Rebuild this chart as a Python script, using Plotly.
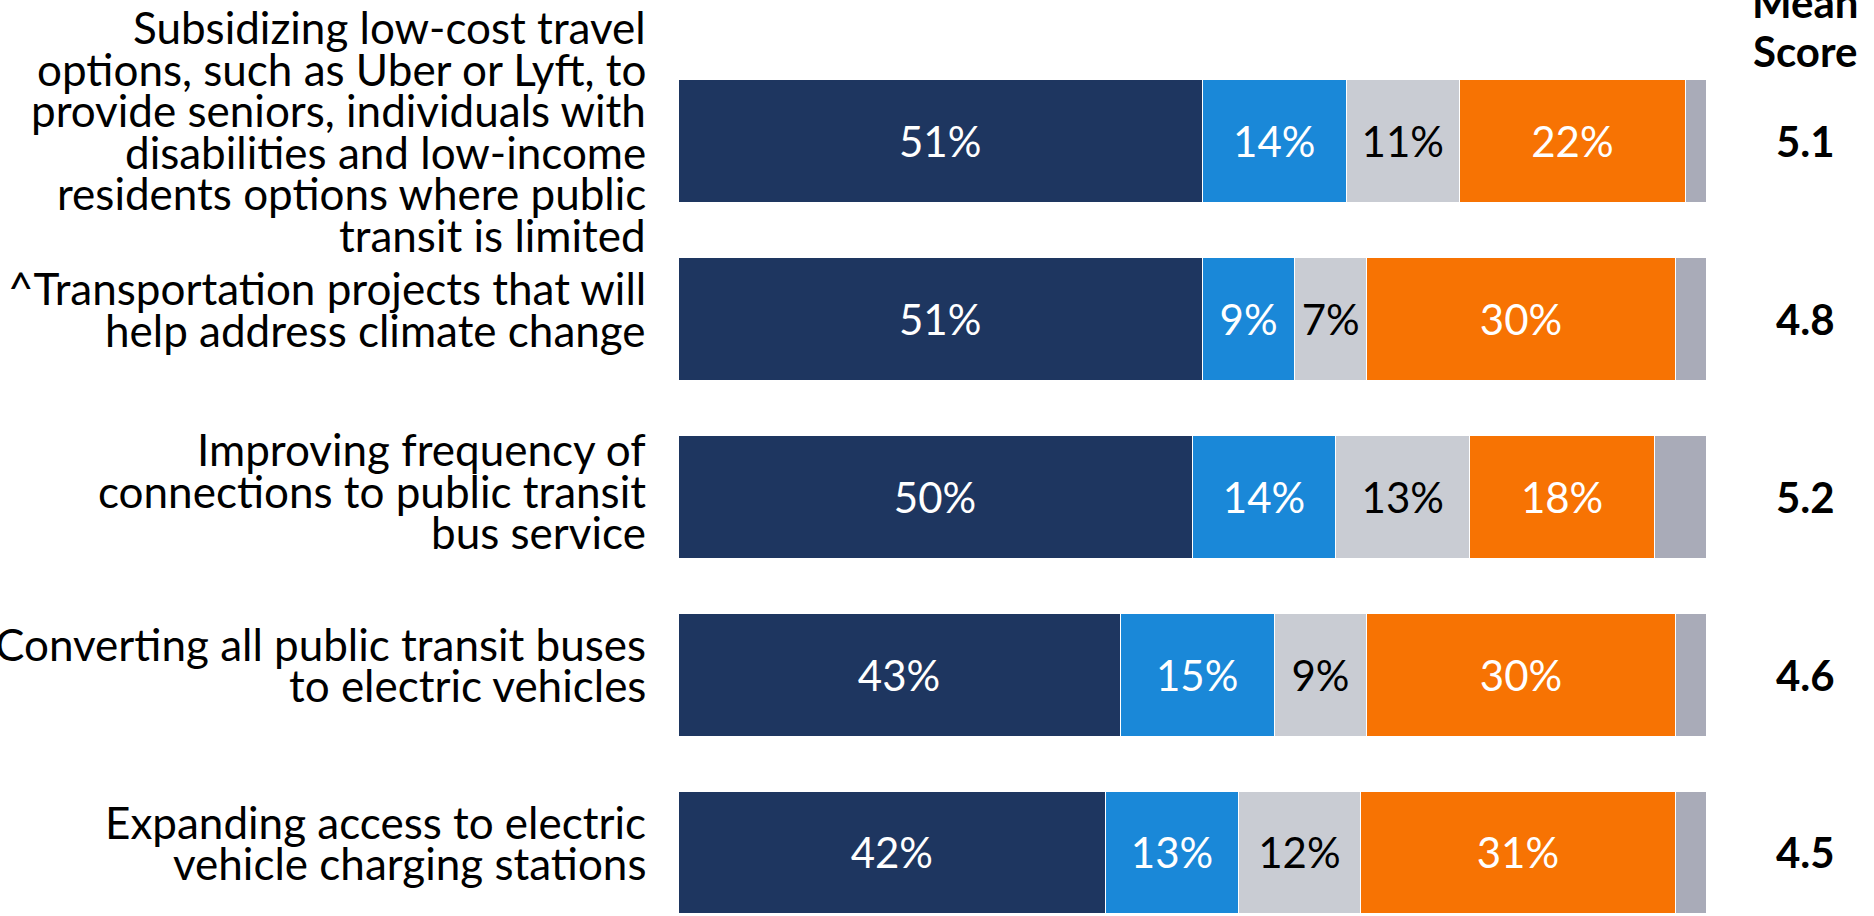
import plotly.graph_objects as go

categories = [
    "Subsidizing low-cost travel options, such as Uber or Lyft, to provide seniors, individuals with disabilities and low-income residents options where public transit is limited",
    "^Transportation projects that will help address climate change",
    "Improving frequency of connections to public transit bus service",
    "Converting all public transit buses to electric vehicles",
    "Expanding access to electric vehicle charging stations",
]
label_lines = [
    ["Subsidizing low-cost travel", "options, such as Uber or Lyft, to", "provide seniors, individuals with",
     "disabilities and low-income", "residents options where public", "transit is limited"],
    ["^Transportation projects that will", "help address climate change"],
    ["Improving frequency of", "connections to public transit", "bus service"],
    ["Converting all public transit buses", "to electric vehicles"],
    ["Expanding access to electric", "vehicle charging stations"],
]
very_important = [51, 51, 50, 43, 41.6]
somewhat_important = [14, 9, 14, 15, 12.9]
neutral = [11, 7, 13, 9, 11.9]
not_important = [22, 30, 18, 30, 30.6]
dont_know = [2, 3, 5, 3, 3.0]
mean_scores = ["5.1", "4.8", "5.2", "4.6", "4.5"]

series = [
    ("Very important", very_important, "#1E3660", "white", True),
    ("Somewhat important", somewhat_important, "#1A88D8", "white", True),
    ("Neutral", neutral, "#C9CCD3", "black", True),
    ("Not important", not_important, "#F77303", "white", True),
    ("Don't know", dont_know, "#A9ABB8", "black", False),
]

FONT = "Lato"
fig = go.Figure()
for name, vals, color, tcolor, show in series:
    fig.add_trace(go.Bar(
        y=categories, x=vals, name=name, orientation="h",
        marker=dict(color=color, line=dict(color="white", width=1)),
        texttemplate="%{x:.0f}%" if show else "",
        textposition="inside", insidetextanchor="middle", textangle=0,
        insidetextfont=dict(family=FONT, size=42, color=tcolor),
        hoverinfo="skip",
    ))

annotations = []
PITCH = 41.5
FS = 44
nudges = [4, 4, 8, 4, 4]
for cat, lines, nudge in zip(categories, label_lines, nudges):
    n = len(lines)
    for k, line in enumerate(lines):
        off = (k - (n - 1) / 2) * PITCH
        annotations.append(dict(
            x=0, xref="paper", xanchor="right", xshift=-30,
            y=cat, yref="y", yanchor="middle", yshift=14 - nudge - off,
            text=line, showarrow=False,
            font=dict(family=FONT, size=FS, color="black"),
        ))
for cat, m in zip(categories, mean_scores):
    annotations.append(dict(
        x=1, xref="paper", xanchor="center", xshift=99,
        y=cat, yref="y", yanchor="middle", yshift=0,
        text="<b>%s</b>" % m, showarrow=False,
        font=dict(family=FONT, size=42, color="black"),
    ))
for txt, ys in [("Mean", 50.5), ("Score", 1)]:
    annotations.append(dict(
        x=1, xref="paper", xanchor="center", xshift=99,
        y=1, yref="paper", yanchor="middle", yshift=ys,
        text="<b>%s</b>" % txt, showarrow=False,
        font=dict(family=FONT, size=42, color="black"),
    ))

fig.update_layout(
    width=1874, height=916,
    barmode="stack", bargap=0.309,
    showlegend=False,
    plot_bgcolor="white", paper_bgcolor="white",
    margin=dict(l=677.5, r=168, t=51.5, b=0, pad=0),
    xaxis=dict(range=[0, 100], visible=False, fixedrange=True),
    yaxis=dict(categoryorder="array", categoryarray=categories,
               range=[4.357, -0.5], visible=False),
    uniformtext=dict(minsize=42, mode="show"),
    annotations=annotations,
    font=dict(family=FONT),
)

fig.write_html("out.html", config={"displayModeBar": False},
               post_script="document.body.style.margin='0';document.body.style.overflow='hidden';")
